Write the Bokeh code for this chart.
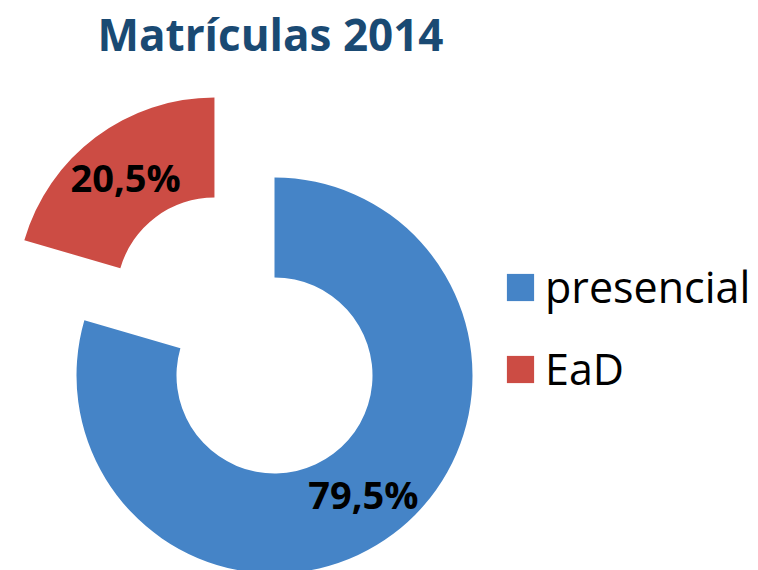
import math
from bokeh.plotting import figure
from bokeh.models import Range1d, ColumnDataSource, Legend, LegendItem
from bokeh.core.properties import value
from bokeh.embed import file_html
from bokeh.resources import INLINE

# ---- data ----
title_text = "Matrículas 2014"
categories = ["presencial", "EaD"]
shares = [79.5, 20.5]
colors = ["#4584C7", "#CC4C44"]
explode = [0, 100]

# ---- layout (screen-pixel coordinates, y up) ----
W, H = 758, 570
cx, cy = 274, 570 - 375
r_in, r_out = 98, 198

p = figure(width=W, height=H, output_backend="svg", toolbar_location=None,
           x_range=Range1d(0, W), y_range=Range1d(570 - H, 570),
           min_border=0, outline_line_color=None)
p.axis.visible = False
p.grid.visible = False

total = sum(shares)
start = math.pi / 2
starts, ends, xs, ys, lx, ly, labels = [], [], [], [], [], [], []
for v, e in zip(shares, explode):
    sweep = 2 * math.pi * v / total
    end = start - sweep
    mid = (start + end) / 2
    x0 = cx + e * math.cos(mid)
    y0 = cy + e * math.sin(mid)
    starts.append(start)
    ends.append(end)
    xs.append(x0)
    ys.append(y0)
    rm = (r_in + r_out) / 2
    lx.append(x0 + rm * math.cos(mid))
    ly.append(y0 + rm * math.sin(mid))
    labels.append(f"{v:.1f}%".replace(".", ","))
    start = end

src = ColumnDataSource(dict(x=xs, y=ys, start=starts, end=ends, color=colors,
                            cat=categories, lx=lx, ly=ly, label=labels))

r = p.annular_wedge(x="x", y="y", inner_radius=r_in, outer_radius=r_out,
                    start_angle="start", end_angle="end", direction="clock",
                    fill_color="color", line_color=None, source=src)

p.text(x="lx", y="ly", text="label", source=src, text_align="center",
       text_baseline="middle", text_font=value("Open Sans"),
       text_font_style="bold", text_font_size="38px", text_color="#000000")

p.text(x=[270], y=[570 - 33], text=[title_text], text_align="center",
       text_baseline="middle", text_font=value("Open Sans"),
       text_font_style="bold", text_font_size="44px", text_color="#1A4A73")

legend = Legend(items=[LegendItem(label=c, renderers=[r], index=i)
                       for i, c in enumerate(categories)],
                location=(503, 570 - 398),
                glyph_width=34, glyph_height=34, label_standoff=8,
                spacing=23, padding=0, margin=0,
                border_line_color=None, background_fill_alpha=0,
                label_text_font="Open Sans", label_text_font_size="43px",
                label_text_color="#000000")
p.add_layout(legend, "center")

open("out.html", "w").write(file_html(p, INLINE))
